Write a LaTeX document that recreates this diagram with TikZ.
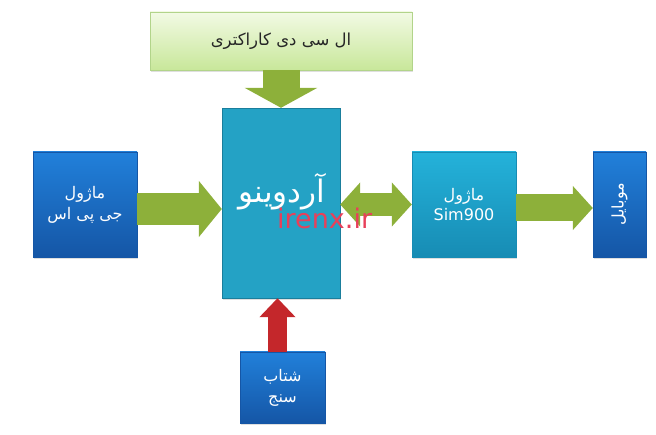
\documentclass[tikz,border=0pt]{standalone}
\usepackage{fontspec}
\setmainfont{DejaVu Sans}
\newfontfamily\fa[Script=Arabic]{DejaVu Sans}
\TeXXeTstate=1
\usetikzlibrary{arrows.meta,shadows}
\definecolor{lcdtop}{HTML}{F2FAE4}
\definecolor{lcdbot}{HTML}{C8E79A}
\definecolor{lcdline}{HTML}{B2D48A}
\definecolor{ardfill}{HTML}{24A2C5}
\definecolor{ardline}{HTML}{1A7E9C}
\definecolor{bluetop}{HTML}{2180DA}
\definecolor{bluebot}{HTML}{1556A6}
\definecolor{simtop}{HTML}{24B2DA}
\definecolor{simbot}{HTML}{178CB4}
\definecolor{garrow}{HTML}{8DB03A}
\definecolor{rarrow}{HTML}{C4272B}
\definecolor{wmark}{HTML}{E8405A}
\begin{document}
\begin{tikzpicture}[x=1pt,y=-1pt,
  boxshadow/.style={drop shadow={opacity=0.25,shadow xshift=1pt,shadow yshift=-2pt}},
  bluebox/.style={top color=bluetop,bottom color=bluebot,draw=bluebot,boxshadow,
     text=white,align=center,font=\fa\fontsize{16}{21}\selectfont,inner sep=2pt},
  greenarrow/.style={draw=garrow,line cap=butt},
  redarrow/.style={draw=rarrow,line cap=butt}]
\useasboundingbox (0,0) rectangle (656,435);

% boxes
\node[top color=lcdtop,bottom color=lcdbot,draw=lcdline,boxshadow,
      minimum width=262pt,minimum height=58pt,
      font=\fa\fontsize{16.5}{20}\selectfont,text=black!85] (lcd) at (281,41)
      {\beginR ال سی دی کاراکتری\endR};
\node[fill=ardfill,draw=ardline,boxshadow,minimum width=118pt,minimum height=190pt] (ard) at (281,203) {};
\node[text=white,font=\fa\fontsize{31}{34}\selectfont] (ardtxt) at (282,192) {\beginR آردوینو\endR};
\node[bluebox,minimum width=104pt,minimum height=105pt] (gps) at (85,204.5)
      {\beginR ماژول\endR\\\beginR جی پی اس\endR};
\node[top color=simtop,bottom color=simbot,draw=simbot,boxshadow,text=white,align=center,
      minimum width=104pt,minimum height=105pt,inner sep=2pt,
      font=\fa\fontsize{16}{20}\selectfont] (sim) at (464,204.5)
      {\beginR ماژول\endR\\\setmainfont{DejaVu Sans}\normalfont\fontsize{16}{20}\selectfont Sim900};
\node[top color=bluetop,bottom color=bluebot,draw=bluebot,boxshadow,text=white,
      font=\fa\fontsize{16}{20}\selectfont,
      minimum width=53pt,minimum height=105pt,inner sep=1pt] (mob) at (619.5,204.5) {};
\node[rotate=90,text=white,font=\fa\fontsize{16}{20}\selectfont] (mobtxt) at (mob.center) {\beginR موبایل\endR};
\node[bluebox,minimum width=85pt,minimum height=71pt] (acc) at (282.5,387.5)
      {\beginR شتاب\endR\\\beginR سنج\endR};

% connectors
\draw[greenarrow,line width=37pt,-{Triangle[width=72pt,length=20pt]}] (lcd.south) -- (ard.north);
\coordinate (g1) at ([yshift=-4.5pt]gps.east);
\draw[greenarrow,line width=32pt,-{Triangle[width=55pt,length=23pt]}] (g1) -- (g1 -| ard.west);
\coordinate (d1) at ([yshift=-1.5pt]ard.east);
\draw[greenarrow,line width=23pt,{Triangle[width=43pt,length=20pt]}-{Triangle[width=43pt,length=20pt]}] (d1) -- (d1 -| sim.west);
\coordinate (s1) at ([yshift=-3.5pt]sim.east);
\draw[greenarrow,line width=27pt,-{Triangle[width=43pt,length=20pt]}] (s1) -- (s1 -| mob.west);
\coordinate (r1) at ([xshift=-5pt]acc.north);
\draw[redarrow,line width=19pt,-{Triangle[width=35pt,length=19pt]}] (r1) -- (r1 |- ard.south);

% watermark
\node[anchor=west,text=wmark,font=\fontsize{27}{30}\selectfont,inner sep=0pt] (wm) at (277,218) {irenx.ir};
\end{tikzpicture}
\end{document}
